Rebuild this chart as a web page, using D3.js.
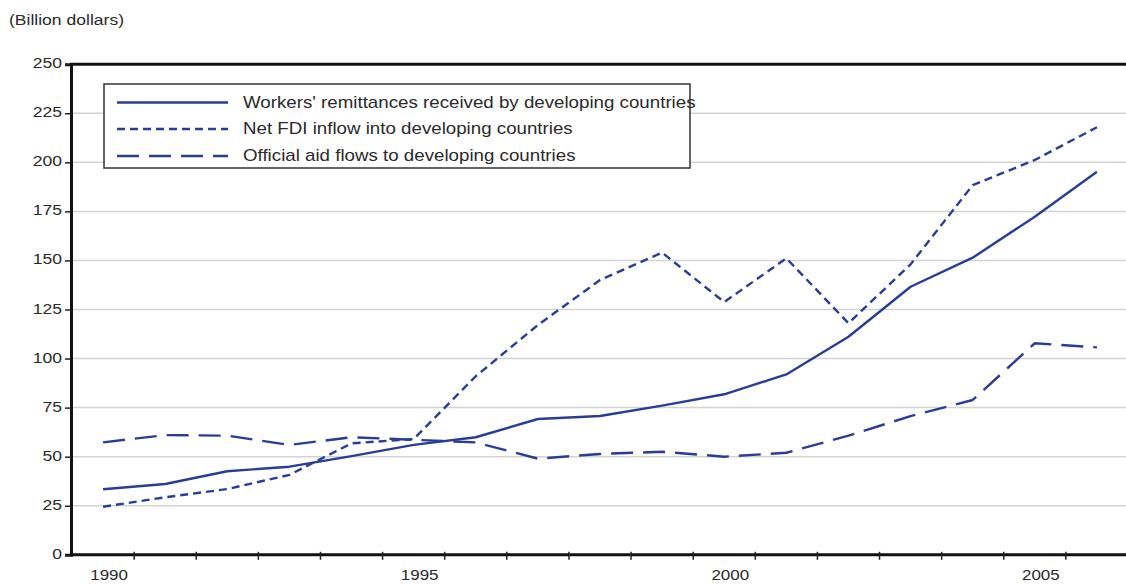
<!DOCTYPE html>
<html>
<head>
<meta charset="utf-8">
<script src="https://cdn.jsdelivr.net/npm/d3@7"></script>
<style>
  html, body { margin: 0; padding: 0; background: #fff; }
  svg { display: block; font-family: "Liberation Sans", Arial, sans-serif; }
</style>
</head>
<body>
<svg id="chart" width="1126" height="584"></svg>
<script>
// Years on the horizontal axis
const years = [1990, 1991, 1992, 1993, 1994, 1995, 1996, 1997, 1998, 1999,
               2000, 2001, 2002, 2003, 2004, 2005, 2006];

// Billion dollars
const remittances = [33.4, 36.1, 42.6, 44.9, 50.3, 56.0, 59.9, 69.2, 70.7, 76.0,
                     81.8, 91.9, 111.1, 136.6, 151.4, 172.3, 195.2];
const fdi = [24.5, 29.3, 33.5, 40.7, 56.8, 59.0, 91.0, 117.1, 140.0, 154.0,
             128.8, 151.1, 118.0, 148.0, 188.4, 201.2, 217.9];
const aid = [57.3, 61.0, 60.7, 56.0, 59.9, 58.6, 57.3, 49.0, 51.4, 52.5,
             50.0, 52.0, 60.7, 70.7, 78.9, 107.8, 105.7];

const yTicks = [0, 25, 50, 75, 100, 125, 150, 175, 200, 225, 250];
const xLabels = [1990, 1995, 2000, 2005];

const seriesNames = [
  "Workers' remittances received by developing countries",
  "Net FDI inflow into developing countries",
  "Official aid flows to developing countries"
];

const lineColor = "#2a3d96";
const textColor = "#2a2a2a";
const dashes = [null, "8,5", "22,10"];
const seriesData = [remittances, fdi, aid];
const xStretch = 1.17; // wide lettering

const svg = d3.select("#chart");

const x = d3.scaleBand().domain(years).range([72, 1128]).padding(0);
const y = d3.scaleLinear().domain([0, 250]).range([554.8, 64.2]);
const xc = yr => x(yr) + x.bandwidth() / 2;

function stretchedText(g, tx, ty, txt, size, anchor) {
  return g.append("text")
    .attr("transform", `translate(${tx},${ty}) scale(${xStretch},1)`)
    .attr("text-anchor", anchor || "start")
    .attr("font-size", size)
    .attr("fill", textColor)
    .text(txt);
}

// Unit label
stretchedText(svg, 9, 25, "(Billion dollars)", 15);

// Horizontal gridlines
svg.append("g").selectAll("line")
  .data(yTicks.filter(t => t > 0 && t < 250))
  .join("line")
  .attr("x1", 71).attr("x2", 1126)
  .attr("y1", d => y(d)).attr("y2", d => y(d))
  .attr("stroke", "#d3d3d3").attr("stroke-width", 1.5);

// Y axis with outward ticks
const yAxis = svg.append("g").attr("transform", "translate(71,0)")
  .call(d3.axisLeft(y).tickValues(yTicks).tickSize(6).tickFormat(""));
yAxis.select(".domain").attr("stroke", "#111").attr("stroke-width", 3);
yAxis.selectAll(".tick line").attr("stroke", "#222").attr("stroke-width", 1.5);
yAxis.selectAll(".tick").each(function (d) {
  stretchedText(d3.select(this), -9, 3.5, d, 15, "end");
});

// Top frame line
svg.append("line")
  .attr("x1", 70).attr("x2", 1126)
  .attr("y1", y(250)).attr("y2", y(250))
  .attr("stroke", "#111").attr("stroke-width", 3);

// X axis: ticks on band boundaries, labels every five years
const xAxisG = svg.append("g");
xAxisG.append("line")
  .attr("x1", 70).attr("x2", 1126)
  .attr("y1", y(0)).attr("y2", y(0))
  .attr("stroke", "#111").attr("stroke-width", 3);
xAxisG.selectAll("line.tk")
  .data(years.slice(1))
  .join("line").attr("class", "tk")
  .attr("x1", d => x(d)).attr("x2", d => x(d))
  .attr("y1", y(0) - 3).attr("y2", y(0) + 5)
  .attr("stroke", "#222").attr("stroke-width", 1.5);
xLabels.forEach(yr => {
  stretchedText(xAxisG, xc(yr) + 6, 580, yr, 14.5, "middle");
});

// Series lines
const line = d3.line().x((d, i) => xc(years[i])).y(d => y(d));
seriesData.forEach((vals, i) => {
  svg.append("path")
    .datum(vals)
    .attr("d", line)
    .attr("fill", "none")
    .attr("stroke", lineColor)
    .attr("stroke-width", 2.4)
    .attr("stroke-dasharray", dashes[i])
    .attr("stroke-linejoin", "round");
});

// Legend
const legend = svg.append("g");
legend.append("rect")
  .attr("x", 104).attr("y", 84).attr("width", 586).attr("height", 84)
  .attr("fill", "#fff");
const rowY = [102.5, 129, 156];
seriesNames.forEach((name, i) => {
  legend.append("line")
    .attr("x1", 117).attr("x2", 228)
    .attr("y1", rowY[i]).attr("y2", rowY[i])
    .attr("stroke", lineColor).attr("stroke-width", 2.4)
    .attr("stroke-dasharray", dashes[i]);
  stretchedText(legend, 243, rowY[i] + 5, name, 16);
});
legend.append("rect")
  .attr("x", 104).attr("y", 84).attr("width", 586).attr("height", 84)
  .attr("fill", "none").attr("stroke", "#333").attr("stroke-width", 1.5);
</script>
</body>
</html>
